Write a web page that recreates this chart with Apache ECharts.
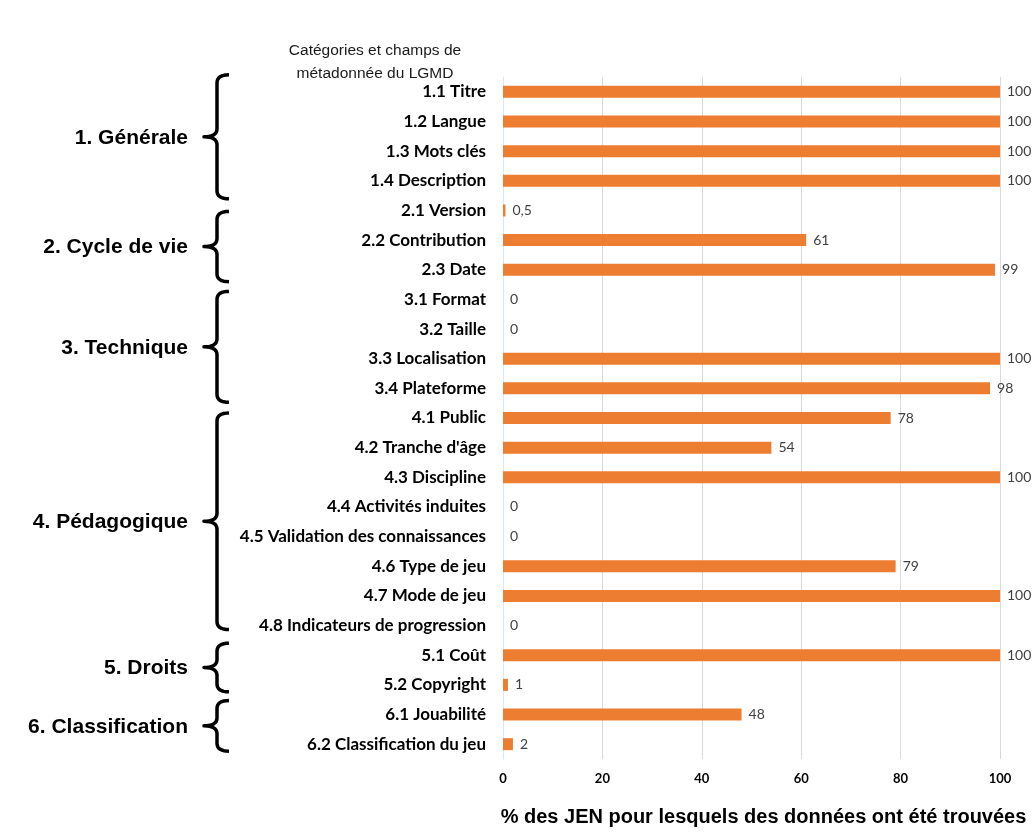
<!DOCTYPE html>
<html><head><meta charset="utf-8">
<script src="https://cdn.jsdelivr.net/npm/echarts@6/dist/echarts.min.js"></script>
<style>html,body{margin:0;padding:0;background:#fff}#c{width:1035px;height:832px}</style>
</head><body><div id="c"></div>
<script>
const categories = ["1.1 Titre","1.2 Langue","1.3 Mots clés","1.4 Description","2.1 Version","2.2 Contribution","2.3 Date","3.1 Format","3.2 Taille","3.3 Localisation","3.4 Plateforme","4.1 Public","4.2 Tranche d'âge","4.3 Discipline","4.4 Activités induites","4.5 Validation des connaissances","4.6 Type de jeu","4.7 Mode de jeu","4.8 Indicateurs de progression","5.1 Coût","5.2 Copyright","6.1 Jouabilité","6.2 Classification du jeu"];
const values = [100,100,100,100,0.5,61,99,0,0,100,98,78,54,100,0,0,79,100,0,100,1,48,2];
const groups = ["1. Générale","2. Cycle de vie","3. Technique","4. Pédagogique","5. Droits","6. Classification"];
const groupFirst = ["1.1 Titre","2.1 Version","3.1 Format","4.1 Public","5.1 Coût","6.1 Jouabilité"];
const groupLast = ["1.4 Description","2.3 Date","3.4 Plateforme","4.8 Indicateurs de progression","5.2 Copyright","6.2 Classification du jeu"];
const xTicks = [0,20,40,60,80,100];

const chart = echarts.init(document.getElementById('c'));
chart.setOption({
  animation:false,
  grid:{left:503,right:35,top:77,bottom:58,containLabel:false},
  xAxis:{type:'value',min:0,max:100,interval:20,
    axisLine:{show:false},axisTick:{show:false},
    splitLine:{lineStyle:{color:'#d9d9d9',width:1}},
    axisLabel:{margin:13,color:'#000',fontFamily:'Lato',fontWeight:'bold',fontSize:13,
      formatter:v=>xTicks.includes(v)?String(v):''},
    name:'% des JEN pour lesquels des données ont été trouvées',nameLocation:'middle',nameGap:48,
    nameTextStyle:{fontFamily:'Liberation Sans',fontWeight:'bold',fontSize:20,color:'#000',padding:[0,0,0,24]}
  },
  yAxis:{type:'category',data:categories,inverse:true,
    axisLine:{show:true,lineStyle:{color:'#d6e8f0',width:1}},axisTick:{show:false},
    axisLabel:{margin:17,color:'#000',fontFamily:'Lato',fontWeight:'bold',fontSize:17}
  },
  series:[{type:'bar',data:values,barWidth:12,itemStyle:{color:'#ED7D31'},
    label:{show:true,position:'right',distance:7,color:'#404040',fontFamily:'Lato',fontSize:14,
      formatter:p=>String(p.value).replace('.',',')}}]
});

function quad(p0,p1,p2,n){
  const pts=[];
  for(let k=0;k<=n;k++){const t=k/n,u=1-t;
    pts.push([u*u*p0[0]+2*u*t*p1[0]+t*t*p2[0], u*u*p0[1]+2*u*t*p1[1]+t*t*p2[1]]);}
  return pts;
}
function drawBraces(){
  const g=[];
  g.push({type:'text',x:375,y:39,style:{text:'Catégories et champs de\nmétadonnée du LGMD',align:'center',verticalAlign:'top',
    font:'15.5px "Liberation Sans"',fill:'#1a1a1a',lineHeight:23}});
  // brace extents (padding above first row / below last row), decoration style only
  const padTop=[17,-1,8,5,12,14], padBot=[18,12,14,4,7,7];
  for(let i=0;i<groups.length;i++){
    const y1=chart.convertToPixel({yAxisIndex:0},groupFirst[i]);
    const y2=chart.convertToPixel({yAxisIndex:0},groupLast[i]);
    const yt=y1-padTop[i], yb=y2+padBot[i], ym=(yt+yb)/2;
    const x0=229,x1=217,xt=204,r=8;
    let pts=[];
    pts=pts.concat(quad([x0,yt],[x1,yt],[x1,yt+r],8));
    pts=pts.concat(quad([x1,ym-r],[x1,ym],[xt,ym],8));
    pts=pts.concat(quad([xt,ym],[x1,ym],[x1,ym+r],8));
    pts=pts.concat(quad([x1,yb-r],[x1,yb],[x0,yb],8));
    g.push({type:'polyline',shape:{points:pts},style:{stroke:'#000',lineWidth:3.5,fill:null,lineJoin:'round'}});
    g.push({type:'text',x:188,y:ym+1,style:{text:groups[i],align:'right',verticalAlign:'middle',
      font:'bold 21px "Liberation Sans"',fill:'#000'}});
  }
  chart.setOption({graphic:g});
}
drawBraces();
</script></body></html>
